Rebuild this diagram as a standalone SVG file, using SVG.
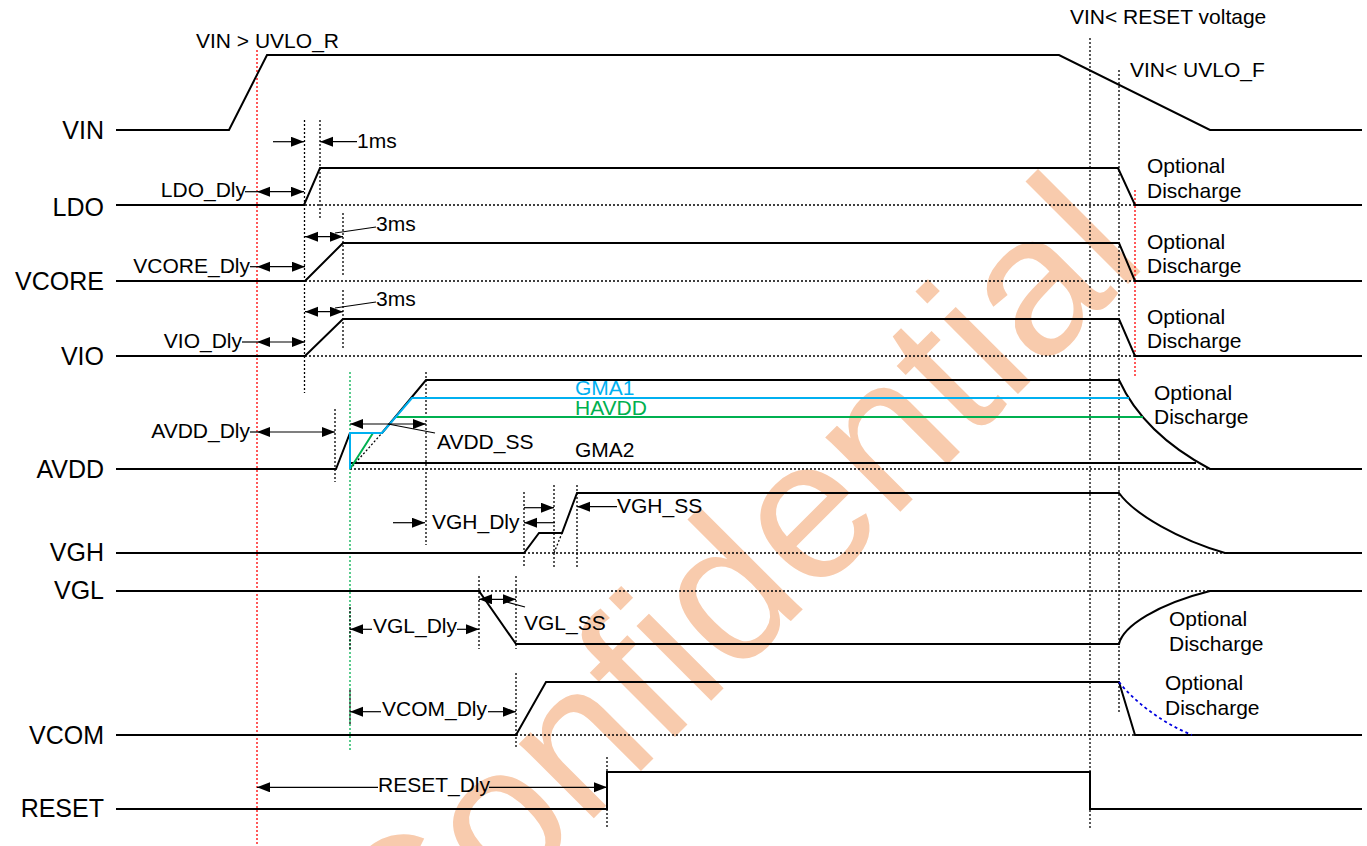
<svg xmlns="http://www.w3.org/2000/svg" width="1367" height="846" viewBox="0 0 1367 846">
<defs>
<marker id="ah" markerUnits="userSpaceOnUse" markerWidth="14" markerHeight="12" refX="13" refY="5" orient="auto-start-reverse"><path d="M0,0 L13,5 L0,10 z" fill="#000"/></marker>
<style>
text{font-family:"Liberation Sans",Arial,sans-serif;font-size:21px;fill:#000}
.lbl{font-size:25px;text-anchor:end}
.sig{stroke:#000;stroke-width:2;fill:none;stroke-linejoin:miter}
.dot{stroke:#000;stroke-width:1.3;stroke-dasharray:2 2;fill:none}
.red{stroke:#FF0000;stroke-width:1.3;stroke-dasharray:2 2;fill:none}
.grn{stroke:#00B050;stroke-width:1.3;stroke-dasharray:2 2;fill:none}
.dim{stroke:#000;stroke-width:1.2;fill:none}
.arr{marker-end:url(#ah)}
.darr{marker-start:url(#ah);marker-end:url(#ah)}
.wm{font-size:200px;fill:#F8CBAD;font-family:"Liberation Sans",Arial,sans-serif}
</style>
</defs>
<rect width="1367" height="846" fill="#fff"/>
<text class="wm" transform="translate(1150,262) rotate(-45)" text-anchor="end">Confidential</text>

<g id="labels">
<text class="lbl" x="104" y="139">VIN</text>
<text class="lbl" x="104" y="216">LDO</text>
<text class="lbl" x="104" y="290">VCORE</text>
<text class="lbl" x="104" y="365">VIO</text>
<text class="lbl" x="104" y="478">AVDD</text>
<text class="lbl" x="104" y="561">VGH</text>
<text class="lbl" x="104" y="599">VGL</text>
<text class="lbl" x="104" y="744">VCOM</text>
<text class="lbl" x="104" y="817">RESET</text>
</g>

<g id="guides">
<path class="red" d="M257,50 V846 M1135,190 V377"/>
<path class="grn" d="M350,372 V752"/>
<path class="dot" d="M304.5,120 V393 M320,120 V220 M343,213 V275 M343,290 V350 M335,409 V482 M426,372 V545 M524,492 V567 M554,485 V567 M577,485 V567 M479,576 V649 M516,576 V649 M516,673 V747 M350,607 V650 M350,690 V725 M607,757 V827 M1090,38 V830 M1119,70 V712"/>
<path class="dot" d="M305,205 H1135 M305,281 H1135 M305,356 H1135 M350,469 H1210 M350,469 L382,433 M524,553 H1225 M554,553 L562,533 M479,591 H1210 M516,735 H1135"/>
</g>

<g id="connectors">
<path id="VIN" class="sig" d="M116,130 H229 L267,55 H1059 L1210,130 H1362"/>
<path id="LDO" class="sig" d="M116,205 H304 L320,168 H1118 L1135,205 H1362"/>
<path id="VCORE" class="sig" d="M116,281 H305 L343,243 H1119 L1135,281 H1362"/>
<path id="VIO" class="sig" d="M116,356 H305 L343,319 H1119 L1135,356 H1362"/>
<path id="AVDD" class="sig" d="M116,469 H336 L350,433 H382 L426,380 H1119 C1135,415 1165,445 1210,469 H1362"/>
<path id="GMA2" class="sig" d="M350,463 H1196"/>
<path id="HAVDD" d="M350,469 L373,433 M396,417 H1143" stroke="#00B050" stroke-width="2" fill="none"/>
<path id="GMA1" d="M350,469 V433 H382 L412,398 H1129" stroke="#00B0F0" stroke-width="2" fill="none"/>
<path id="VGH" class="sig" d="M116,553 H524 L539,533 H562 L577,493 H1119 C1135,515 1180,540 1225,553 H1362"/>
<path id="VGL" class="sig" d="M116,591 H479 L516,644 H1119 C1123,626 1158,604 1210,591 H1362"/>
<path id="VCOM" class="sig" d="M116,735 H516 L546,682 H1119 L1135,735 H1362"/>
<path id="VCOMdis" d="M1119,682 C1133,700 1160,722 1192,735" stroke="#0000E0" stroke-width="1.8" stroke-dasharray="3 3" fill="none"/>
<path id="RESET" class="sig" d="M116,809 H607 V772 H1090 V809 H1362"/>
</g>

<g id="dimensions">
<path class="dim arr" d="M273,141.7 H304"/>
<path class="dim arr" d="M357,141.7 H320"/>
<path class="dim" d="M245,191.7 H257"/>
<path class="dim darr" d="M257,191.7 H304"/>
<path class="dim" d="M250,266.7 H257"/>
<path class="dim darr" d="M257,266.7 H305"/>
<path class="dim" d="M242,342 H257"/>
<path class="dim darr" d="M257,342 H305"/>
<path class="dim darr" d="M305,236.7 H343"/>
<path class="dim" d="M335,233 L376,227"/>
<path class="dim darr" d="M305,311.7 H343"/>
<path class="dim" d="M335,308 L376,302"/>
<path class="dim" d="M250,432 H257"/>
<path class="dim darr" d="M257,432 H335"/>
<path class="dim darr" d="M350,424 H426"/>
<path class="dim" d="M388,424 L435,433"/>
<path class="dim arr" d="M393,522.7 H425"/>
<path class="dim arr" d="M524,507.7 H554"/>
<path class="dim arr" d="M555,522.7 H524"/>
<path class="dim arr" d="M617,506.7 H577"/>
<path class="dim arr" d="M372,629.3 H350"/>
<path class="dim arr" d="M457,629.3 H479"/>
<path class="dim darr" d="M479,599.3 H516"/>
<path class="dim" d="M503,601 L525,607"/>
<path class="dim arr" d="M381,711.7 H350"/>
<path class="dim arr" d="M488,711.7 H516"/>
<path class="dim arr" d="M378,787.3 H257"/>
<path class="dim arr" d="M489,787.3 H607"/>
</g>

<g id="annotations">
<text x="196" y="48">VIN &gt; UVLO_R</text>
<text x="1070" y="24">VIN&lt; RESET voltage</text>
<text x="1130" y="77">VIN&lt; UVLO_F</text>
<text x="357" y="148">1ms</text>
<text x="246" y="197" text-anchor="end">LDO_Dly</text>
<text x="250" y="273" text-anchor="end">VCORE_Dly</text>
<text x="242" y="348" text-anchor="end">VIO_Dly</text>
<text x="376" y="231">3ms</text>
<text x="376" y="306">3ms</text>
<text x="250" y="438" text-anchor="end">AVDD_Dly</text>
<text x="437" y="449">AVDD_SS</text>
<text x="575" y="395" style="fill:#00B0F0">GMA1</text>
<text x="575" y="415" style="fill:#00B050">HAVDD</text>
<text x="575" y="457">GMA2</text>
<text x="432" y="529">VGH_Dly</text>
<text x="617" y="513">VGH_SS</text>
<text x="373" y="633">VGL_Dly</text>
<text x="524" y="630">VGL_SS</text>
<text x="382" y="716">VCOM_Dly</text>
<text x="378" y="792">RESET_Dly</text>
<text x="1147" y="173">Optional</text>
<text x="1147" y="198">Discharge</text>
<text x="1147" y="249">Optional</text>
<text x="1147" y="273">Discharge</text>
<text x="1147" y="324">Optional</text>
<text x="1147" y="348">Discharge</text>
<text x="1154" y="400">Optional</text>
<text x="1154" y="424">Discharge</text>
<text x="1169" y="626">Optional</text>
<text x="1169" y="651">Discharge</text>
<text x="1165" y="690">Optional</text>
<text x="1165" y="715">Discharge</text>
</g>
</svg>
